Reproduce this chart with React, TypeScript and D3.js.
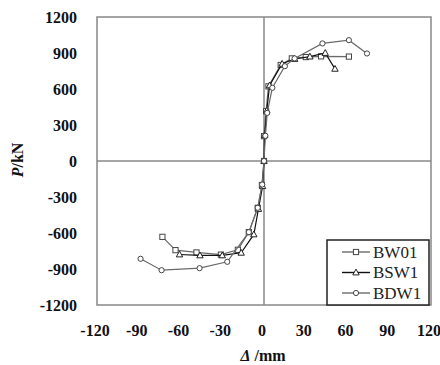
import * as d3 from "d3";

// skeleton curves, [displacement mm, load kN]
const bw01: [number, number][] = [
  [-73, -632], [-63.6, -743], [-48.5, -762], [-31, -780], [-18.8, -740], [-10.9, -593],
  [-4.5, -390], [-1.5, -200], [0, 0], [0, 207], [1.5, 415], [3.2, 622], [12, 800],
  [20, 855], [30, 866], [41, 872], [61, 870],
];
const bsw1: [number, number][] = [
  [-60.7, -779], [-46, -787], [-30, -787], [-16.4, -765], [-7.3, -612], [-4, -400],
  [-1, -210], [0, 0], [0.5, 215], [2, 420], [4, 630], [13, 810], [22, 850], [33, 870],
  [44, 900], [51, 768],
];
const bdw1: [number, number][] = [
  [-88.7, -815], [-73.6, -910], [-46.3, -893], [-26.4, -840], [-10.9, -593], [-4.5, -390],
  [-1.3, -196], [0, 0], [1, 210], [2.3, 401], [6, 610], [15, 790], [22, 855], [42, 980],
  [61, 1007], [74, 896],
];

const xTicks = [-120, -90, -60, -30, 0, 30, 60, 90, 120];
const yTicks = [1200, 900, 600, 300, 0, -300, -600, -900, -1200];
const seriesNames = ["BW01", "BSW1", "BDW1"];

const W = 440;
const H = 365;
const FONT = "'Liberation Serif', 'Times New Roman', serif";

type Shape = "square" | "triangle" | "circle";

function Marker({ x, y, shape, stroke }: { x: number; y: number; shape: Shape; stroke: string }) {
  if (shape === "square") {
    return <rect x={x - 2.6} y={y - 2.6} width={5.2} height={5.2} fill="#fff" stroke={stroke} strokeWidth={1} />;
  }
  if (shape === "triangle") {
    return (
      <path
        d={`M${x},${y - 3.4}L${x + 3.2},${y + 2.4}L${x - 3.2},${y + 2.4}Z`}
        fill="#fff"
        stroke={stroke}
        strokeWidth={1}
      />
    );
  }
  return <circle cx={x} cy={y} r={2.6} fill="#fff" stroke={stroke} strokeWidth={1} />;
}

export default function App() {
  const x = d3.scaleLinear().domain([-120, 120]).range([97, 431]);
  const y = d3.scaleLinear().domain([-1200, 1200]).range([305, 17]);

  const line = d3
    .line<[number, number]>()
    .x((d) => x(d[0]))
    .y((d) => y(d[1]));

  const series = [
    { name: seriesNames[0], data: bw01, shape: "square" as Shape, color: "#6a6a6a", mk: "#444" },
    { name: seriesNames[1], data: bsw1, shape: "triangle" as Shape, color: "#111", mk: "#222" },
    { name: seriesNames[2], data: bdw1, shape: "circle" as Shape, color: "#6a6a6a", mk: "#444" },
  ];

  return (
    <svg
      width={W}
      height={H}
      style={{ position: "absolute", left: 0, top: 0, background: "#fff" }}
      fontFamily={FONT}
    >
      <rect x={0} y={0} width={W} height={H} fill="#fff" />
      {/* frame and zero lines */}
      <line x1={x(0)} x2={x(0)} y1={y(1200)} y2={y(-1200)} stroke="#888" strokeWidth={1.5} />
      <line x1={x(-120)} x2={x(120)} y1={y(0)} y2={y(0)} stroke="#888" strokeWidth={1.5} />
      <rect
        x={x(-120)}
        y={y(1200)}
        width={x(120) - x(-120)}
        height={y(-1200) - y(1200)}
        fill="none"
        stroke="#888"
        strokeWidth={1.5}
      />

      {series.map((s) => (
        <g key={s.name}>
          <path d={line(s.data) ?? ""} fill="none" stroke={s.color} strokeWidth={1.2} />
          {s.data.map((d, i) => (
            <Marker key={i} x={x(d[0])} y={y(d[1])} shape={s.shape} stroke={s.mk} />
          ))}
        </g>
      ))}

      {/* y ticks */}
      {yTicks.map((t) => (
        <text key={t} x={77} y={y(t)} dy="0.35em" textAnchor="end" fontSize={16} fontWeight="bold" fill="#111">
          {t}
        </text>
      ))}
      {/* x ticks */}
      {xTicks.map((t) => (
        <text key={t} x={x(t) - 2} y={330} dy="0.35em" textAnchor="middle" fontSize={16} fontWeight="bold" fill="#111">
          {t}
        </text>
      ))}

      <text
        transform={`translate(23,160) rotate(-90)`}
        textAnchor="middle"
        fontSize={16}
        fontWeight="bold"
        fill="#111"
      >
        <tspan fontStyle="italic">P</tspan>/kN
      </text>
      <text x={263} y={361} textAnchor="middle" fontSize={16} fontWeight="bold" fill="#111">
        <tspan fontStyle="italic">Δ</tspan> /mm
      </text>

      {/* legend */}
      <rect x={327} y={240} width={102} height={65} fill="#fff" stroke="#222" strokeWidth={1.5} />
      {series.map((s, i) => {
        const ly = 252 + i * 20.5;
        return (
          <g key={s.name}>
            <line x1={342} x2={370} y1={ly} y2={ly} stroke={s.color} strokeWidth={1.4} />
            <Marker x={356} y={ly} shape={s.shape} stroke={s.mk} />
            <text x={373} y={ly} dy="0.35em" fontSize={17} fill="#222">
              {s.name}
            </text>
          </g>
        );
      })}
    </svg>
  );
}
